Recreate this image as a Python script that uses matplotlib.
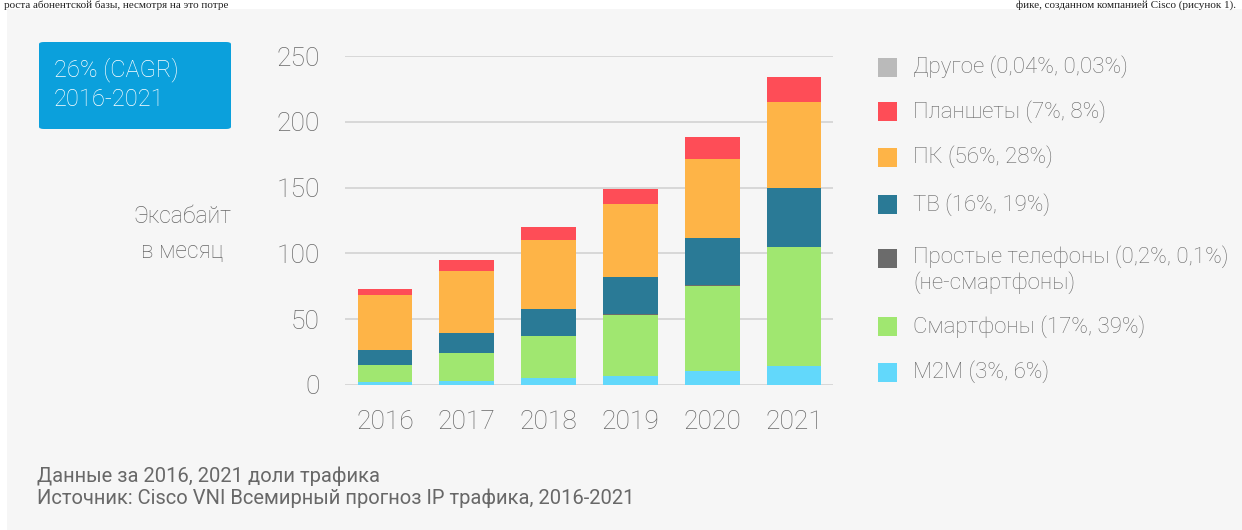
import matplotlib
matplotlib.use("Agg")
import matplotlib.pyplot as plt
from matplotlib.patches import Rectangle, FancyBboxPatch
import numpy as np

# ---------------- data ----------------
years = ["2016", "2017", "2018", "2019", "2020", "2021"]
m2m = [2.5, 3.0, 5.6, 7.1, 10.7, 14.7]
smartphones = [12.7, 21.2, 31.6, 46.3, 64.9, 90.2]
simple_phones = [0.15, 0.15, 0.15, 0.2, 0.2, 0.2]
tv = [11.1, 15.5, 20.3, 28.3, 36.2, 44.9]
pc = [41.6, 47.1, 52.2, 55.8, 60.0, 65.2]
tablets = [5.1, 8.1, 10.3, 11.0, 16.2, 18.6]
other = [0.03, 0.03, 0.04, 0.05, 0.06, 0.07]

series_names = [
    "M2M (3%, 6%)",
    "Смартфоны (17%, 39%)",
    "Простые телефоны (0,2%, 0,1%)\n(не-смартфоны)",
    "ТВ (16%, 19%)",
    "ПК (56%, 28%)",
    "Планшеты (7%, 8%)",
    "Другое (0,04%, 0,03%)",
]
series_values = [m2m, smartphones, simple_phones, tv, pc, tablets, other]
series_colors = ["#62d8fb", "#a0e770", "#6b6b6b", "#2a7a96", "#feb447", "#fe4d57", "#bababa"]
y_ticks = [0, 50, 100, 150, 200, 250]

page_text_left = "роста абонентской базы, несмотря на это потре"
page_text_right = "фике, созданном компанией Cisco (рисунок 1)."

W, H = 1242, 530
def fx(x): return x / W
def fy(y): return 1 - y / H

FONT = "Roboto"
GREY = "#686868"

fig = plt.figure(figsize=(W / 100, H / 100), dpi=100)
fig.patch.set_facecolor("white")
fig.add_artist(Rectangle((fx(7), 0), 1 - fx(7), fy(9), transform=fig.transFigure,
                         facecolor="#f6f6f6", edgecolor="none", zorder=0))

# top line of the page text
fig.text(fx(4), fy(7.5), page_text_left, family="Liberation Serif", fontsize=8,
         color="#222222", ha="left", va="baseline")
fig.text(fx(1236), fy(7.5), page_text_right, family="Liberation Serif", fontsize=8,
         color="#222222", ha="right", va="baseline")

ax = fig.add_axes([fx(345), fy(385), (833 - 345) / W, (385 - 56) / H])
ax.set_facecolor("none")

x = np.arange(len(years))
bottom = np.zeros(len(years))
for vals, col in zip(series_values, series_colors):
    ax.bar(x, vals, bottom=bottom, width=0.67, color=col, linewidth=0, zorder=3)
    bottom += np.array(vals)

ax.set_xlim(-0.489, 5.477)
ax.set_ylim(0, 250)
ax.set_yticks(y_ticks)
ax.set_yticklabels([str(t) for t in y_ticks])
ax.set_xticks(x)
ax.set_xticklabels(years)
ax.grid(axis="y", color="#d8d8d8", linewidth=1.4, zorder=1)
ax.grid(axis="x", visible=False)
for s in ax.spines.values():
    s.set_visible(False)
ax.tick_params(axis="y", length=0, pad=18, labelsize=19, labelcolor=GREY)
ax.tick_params(axis="x", length=0, pad=18, labelsize=19, labelcolor=GREY)
for lab in ax.get_xticklabels() + ax.get_yticklabels():
    lab.set_family(FONT)
    lab.set_fontweight("light")

# y axis label
fig.text(fx(182), fy(234), "Эксабайт\nв месяц", ha="center", va="center",
         family=FONT, fontweight="light", fontsize=16.5, color=GREY, linespacing=1.65)

# CAGR box
fig.add_artist(FancyBboxPatch((fx(39), fy(129)), fx(231) - fx(39), fy(42) - fy(129),
                              boxstyle="round,pad=0,rounding_size=0.004",
                              transform=fig.transFigure, facecolor="#0ba0dc",
                              edgecolor="none", zorder=2))
fig.text(fx(54), fy(70), "26% (CAGR)", ha="left", va="center", family=FONT,
         fontweight="light", fontsize=17, color="white", zorder=3)
fig.text(fx(54), fy(99), "2016-2021", ha="left", va="center", family=FONT,
         fontweight="light", fontsize=17, color="white", zorder=3)

# legend (manual)
legend_rows = [372, 326.5, 258, 204.5, 157, 111.5, 67]
for name, col, yc in zip(series_names, series_colors, legend_rows):
    fig.add_artist(Rectangle((fx(878), fy(yc + 9.5)), 19 / W, 19 / H,
                             transform=fig.transFigure, facecolor=col, edgecolor="none"))
    if "\n" in name:
        fig.text(fx(913), fy(yc - 13), name, ha="left", va="top", family=FONT,
                 fontweight="light", fontsize=16, color=GREY, linespacing=1.2)
    else:
        fig.text(fx(913), fy(yc), name, ha="left", va="center", family=FONT,
                 fontweight="light", fontsize=16, color=GREY)

# footer
fig.text(fx(37), fy(476), "Данные за 2016, 2021 доли трафика", ha="left", va="center",
         family=FONT, fontsize=14.5, color=GREY)
fig.text(fx(37), fy(498), "Источник: Cisco VNI Всемирный прогноз IP трафика, 2016-2021",
         ha="left", va="center", family=FONT, fontsize=14.5, color=GREY)

fig.savefig("out.png", dpi=100, facecolor=fig.get_facecolor())
